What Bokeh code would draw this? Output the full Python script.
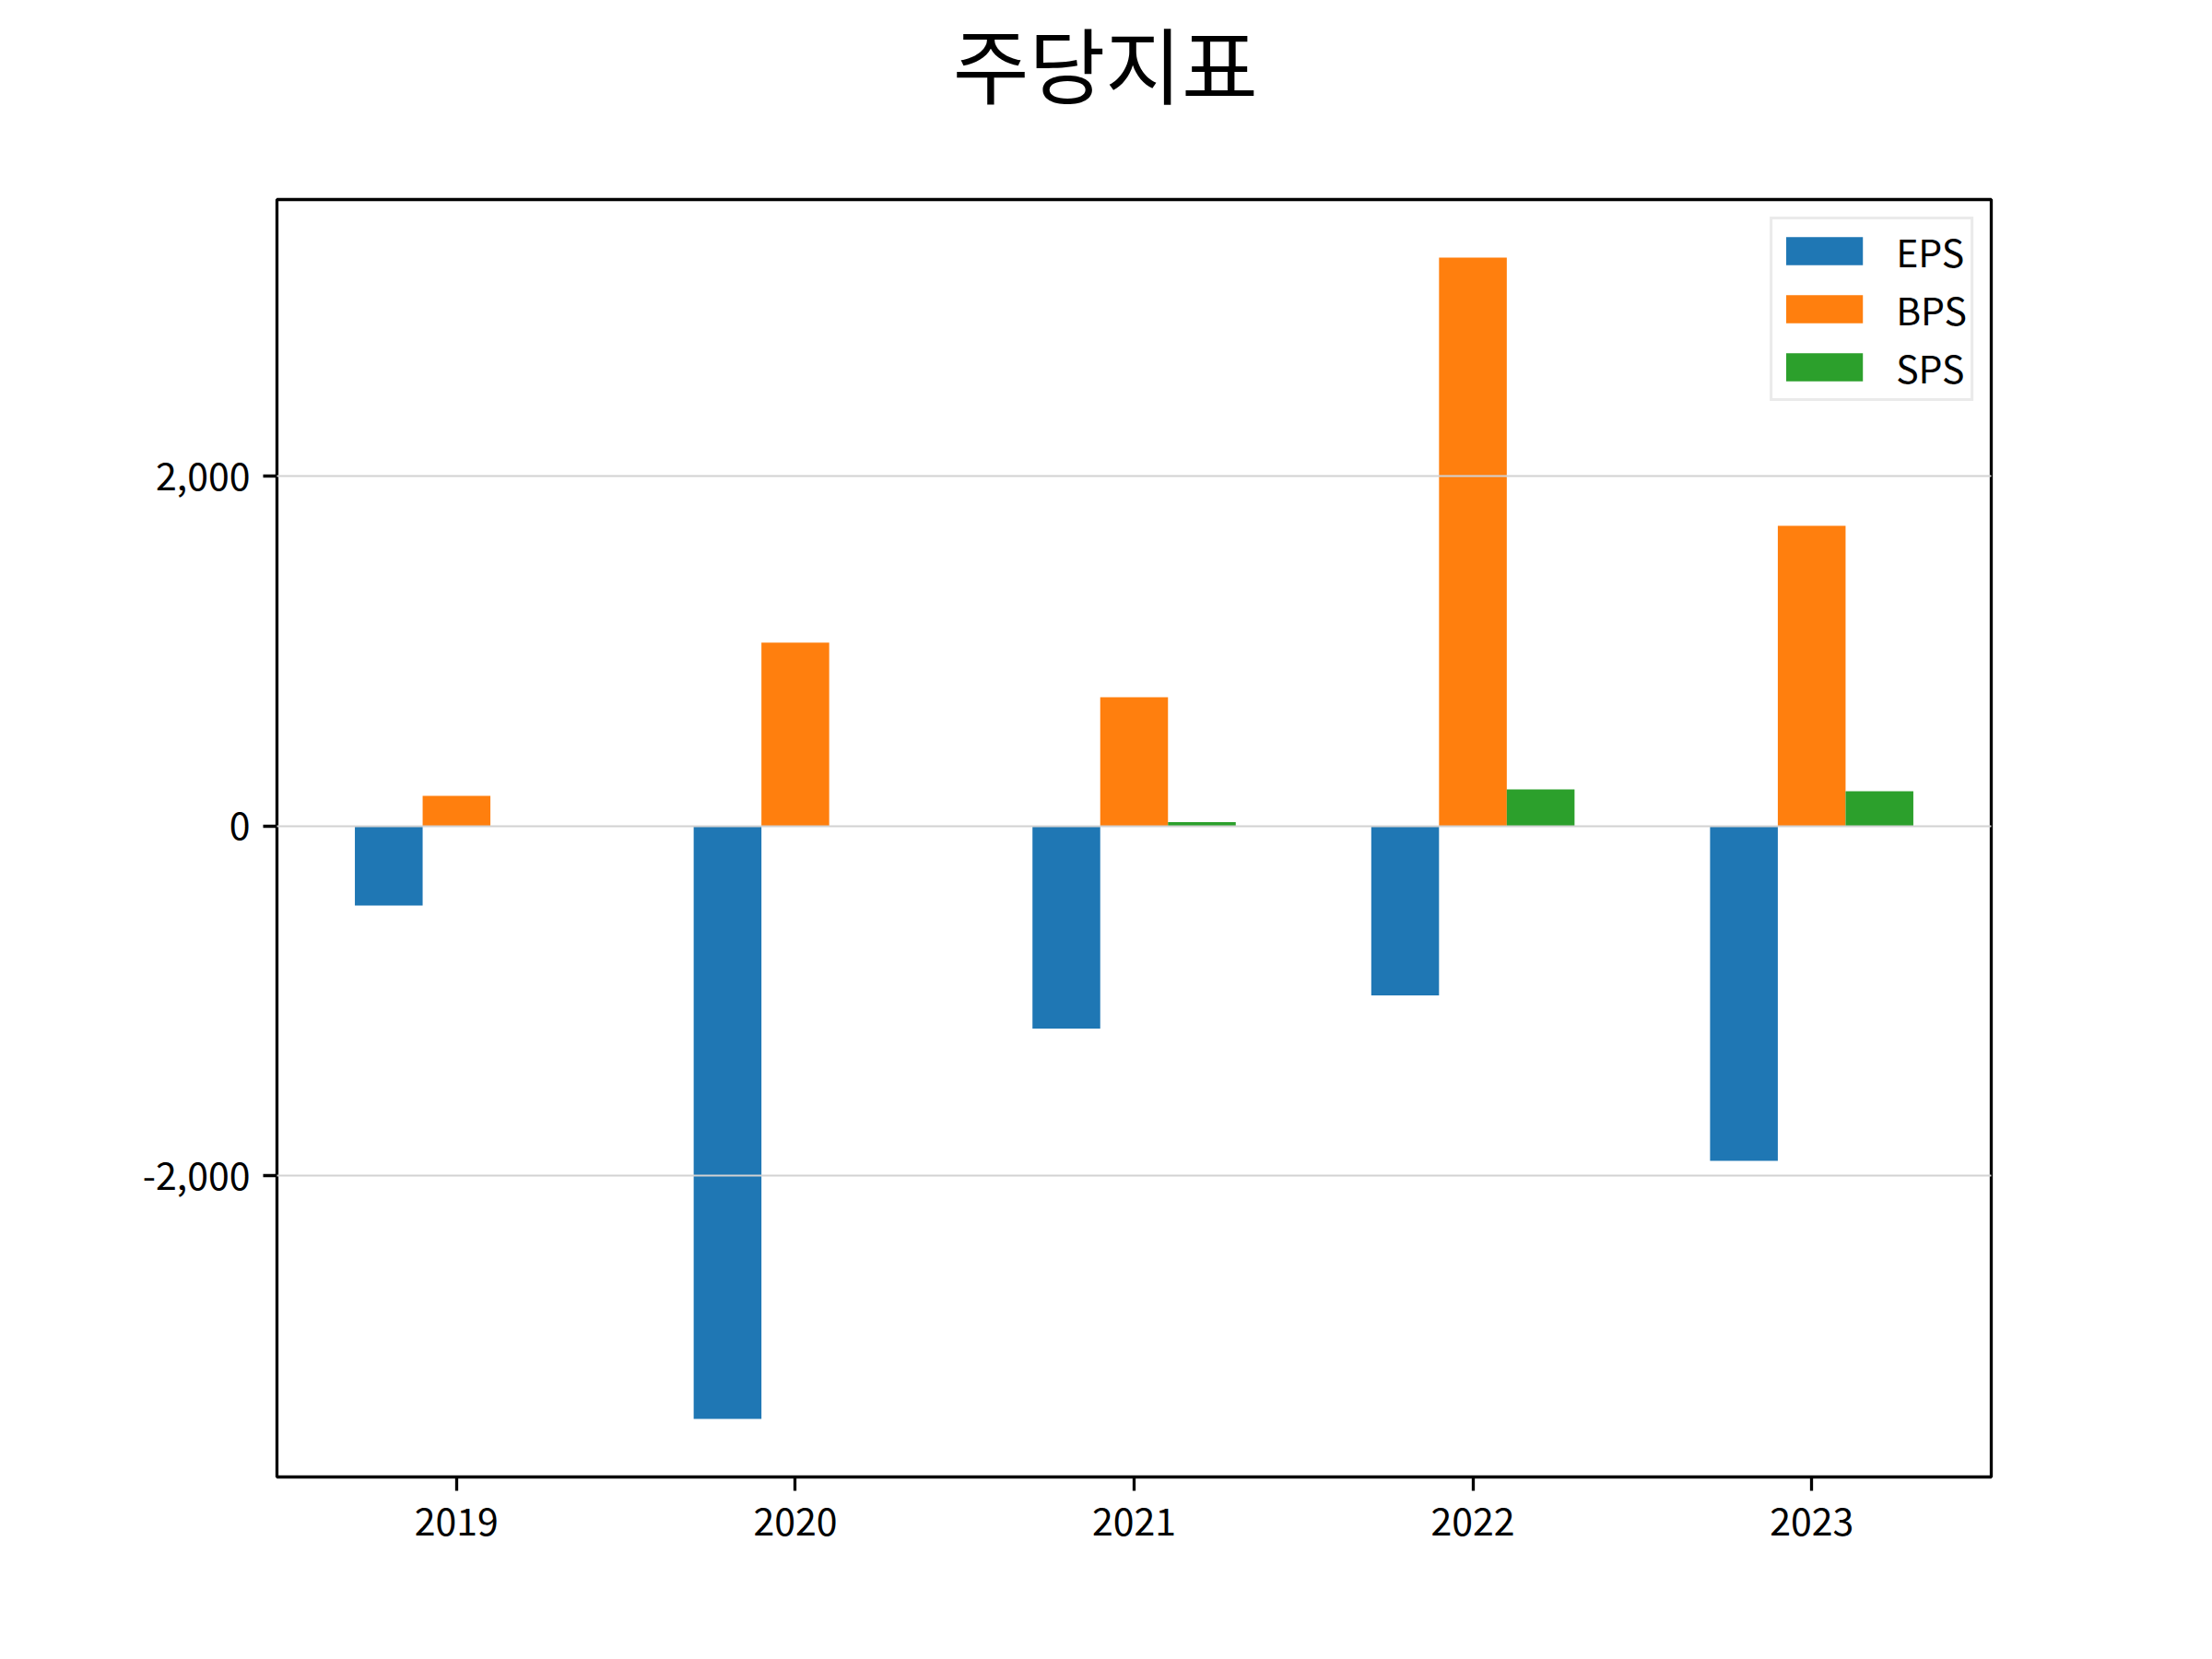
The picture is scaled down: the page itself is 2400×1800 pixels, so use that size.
from bokeh.plotting import figure
from bokeh.models import (ColumnDataSource, Range1d, FixedTicker, NumeralTickFormatter,
                          Legend, LegendItem)
from bokeh.layouts import column
from bokeh.core.properties import value
from bokeh.transform import dodge
from bokeh.embed import file_html
from bokeh.resources import INLINE

years = ["2019", "2020", "2021", "2022", "2023"]
eps = [-455, -3390, -1158, -968, -1915]
bps = [172, 1048, 736, 3250, 1717]
sps = [0, 0, 22, 209, 199]
series_names = ["EPS", "BPS", "SPS"]
colors = ["#1f77b4", "#ff7f0e", "#2ca02c"]
y_ticks = [-2000, 0, 2000]
title_text = "주당지표"

FONT = "Noto Sans CJK KR"
W, H = 2400, 1800
TITLE_H = 200

# ---- title strip (separate figure so the title can sit high above the frame) ----
t = figure(width=W, height=TITLE_H, output_backend="svg", toolbar_location=None,
           x_range=Range1d(0, W), y_range=Range1d(0, TITLE_H),
           x_axis_location=None, y_axis_location=None,
           min_border=0, min_border_left=0, min_border_right=0,
           min_border_top=0, min_border_bottom=0)
t.grid.visible = False
t.outline_line_color = None
t.background_fill_color = "white"
t.border_fill_color = "white"
t.text(x=[946], y=[TITLE_H - 66], text=[title_text], text_align="left",
       text_baseline="alphabetic", text_font=value(FONT), text_font_size="90px",
       text_color="black")

# ---- main chart ----
idx = list(range(len(years)))
source = ColumnDataSource(data=dict(x=idx, EPS=eps, BPS=bps, SPS=sps))

bar_w = 0.2
allv = eps + bps + sps
lo, hi = min(allv), max(allv)
ym = 0.05 * (hi - lo)
x_lo = idx[0] - 1.5 * bar_w
x_hi = idx[-1] + 1.5 * bar_w
xm = 0.05 * (x_hi - x_lo)

p = figure(width=W, height=H - TITLE_H, output_backend="svg", toolbar_location=None,
           x_range=Range1d(x_lo - xm, x_hi + xm), y_range=Range1d(lo - ym, hi + ym),
           min_border_left=300, min_border_right=240, min_border_top=216 - TITLE_H,
           min_border_bottom=198)
p.background_fill_color = "white"
p.border_fill_color = "white"
p.outline_line_color = "black"
p.outline_line_width = 3.3

renderers = []
for k, (name, col) in enumerate(zip(series_names, colors)):
    off = (k - 1) * bar_w
    r = p.vbar(x=dodge("x", off, range=p.x_range), top=name, width=bar_w, bottom=0,
               source=source, fill_color=col, line_color=None)
    renderers.append(r)

p.xaxis.ticker = FixedTicker(ticks=idx)
p.xaxis.major_label_overrides = {i: y for i, y in zip(idx, years)}
p.yaxis.ticker = FixedTicker(ticks=y_ticks)
p.yaxis.formatter = NumeralTickFormatter(format="0,0")

for ax in (p.xaxis[0], p.yaxis[0]):
    ax.axis_line_color = None
    ax.major_tick_line_color = "black"
    ax.major_tick_line_width = 3.3
    ax.major_tick_out = 15
    ax.major_tick_in = 0
    ax.minor_tick_line_color = None
    ax.major_label_text_font = FONT
    ax.major_label_text_font_size = "41px"
    ax.major_label_text_color = "black"
p.xaxis.major_label_standoff = 18
p.yaxis.major_label_standoff = 14

p.xgrid.grid_line_color = None
p.ygrid.grid_line_color = "#d2d2d2"
p.ygrid.grid_line_width = 2
p.ygrid.level = "overlay"

legend = Legend(items=[LegendItem(label=n, renderers=[r]) for n, r in zip(series_names, renderers)],
                location="top_right", margin=19, padding=4, spacing=3,
                glyph_width=104, glyph_height=38, label_height=44, label_standoff=26,
                label_text_font=FONT, label_text_font_size="41px", label_text_color="black",
                border_line_color="#d5d5d5", border_line_width=3,
                background_fill_color="white", background_fill_alpha=0.8)
p.add_layout(legend)

layout = column(t, p, spacing=0)
open("out.html", "w").write(file_html(layout, INLINE))
